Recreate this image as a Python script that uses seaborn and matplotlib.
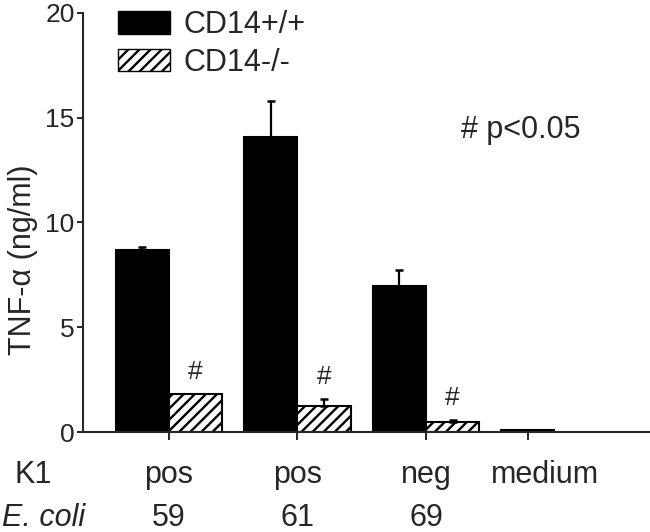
import numpy as np
import pandas as pd
import seaborn as sns
import matplotlib
matplotlib.use("Agg")
import matplotlib.pyplot as plt
from matplotlib.patches import Patch

# data
k1 = ["pos", "pos", "neg"]
strains = ["59", "61", "69"]
genotypes = ["CD14+/+", "CD14-/-"]
tnf_wt = [8.7, 14.1, 6.95]
tnf_ko = [1.82, 1.22, 0.5]
err_wt = [0.12, 1.7, 0.8]
err_ko = [0.0, 0.37, 0.08]
signif = [True, True, True]
medium_ko = [0.1]

# layout
group_pos = [0, 1, 2]
medium_pos = 2.79

sns.set_style("ticks")
plt.rcParams["font.family"] = ["Liberation Sans", "DejaVu Sans"]
plt.rcParams["hatch.linewidth"] = 1.7

df = pd.DataFrame({
    "x": group_pos * 2,
    "tnf": tnf_wt + tnf_ko,
    "genotype": [genotypes[0]] * 3 + [genotypes[1]] * 3,
})

fig = plt.figure(figsize=(6.5, 5.32), dpi=100)
ax = fig.add_axes([83 / 650, 1 - 432 / 532, 567 / 650, 419 / 532])

sns.barplot(data=df, x="x", y="tnf", hue="genotype", hue_order=genotypes,
            palette=["black", "white"], native_scale=True, width=0.83,
            errorbar=None, edgecolor="black", linewidth=1.5, legend=False, ax=ax)
bars = list(ax.patches)
for p in bars[3:6]:
    p.set_hatch("///")

sns.barplot(x=[medium_pos], y=medium_ko, native_scale=True, width=0.41,
            color="white", edgecolor="black", linewidth=1.5, hatch="///",
            errorbar=None, ax=ax)

# one-sided error bars (upper only)
xc = [p.get_x() + p.get_width() / 2 for p in bars[:6]]
tops = tnf_wt + tnf_ko
errs = err_wt + err_ko
for x, t, e in zip(xc, tops, errs):
    if e > 0:
        ax.errorbar(x, t, yerr=[[0], [e]], fmt="none", ecolor="black",
                    elinewidth=1.6, capsize=3, capthick=1.8, zorder=1)

# significance marks
for x, t, e, s in zip(xc[3:], tnf_ko, err_ko, signif):
    if s:
        ax.text(x, t + e + 1.05, "#", ha="center", va="center", fontsize=19)
ax.text(2.74, 14.4, "# p<0.05", ha="center", va="center", fontsize=22)

ax.set_ylim(0, 20)
ax.set_xlim(-0.669, 3.743)
ax.set_yticks([0, 5, 10, 15, 20])
ax.set_xticks(group_pos + [medium_pos])
ax.set_xticklabels([])
ax.tick_params(axis="y", labelsize=19, length=4, width=1.4, pad=2)
ax.tick_params(axis="x", length=6, width=1.4)
ax.set_xlabel("")
ax.set_ylabel("TNF-α (ng/ml)", fontsize=22)
ax.yaxis.set_label_coords(-0.08, 0.41)
sns.despine(ax=ax)
for s in ["left", "bottom"]:
    ax.spines[s].set_linewidth(1.5)

# category rows under the axis
tr = ax.get_xaxis_transform()
for x, a, b in zip(group_pos, k1, strains):
    ax.text(x, -0.1026, a, transform=tr, ha="center", va="center", fontsize=22)
    ax.text(x, -0.205, b, transform=tr, ha="center", va="center", fontsize=22)
ax.text(medium_pos + 0.14, -0.1026, "medium", transform=tr, ha="center",
        va="center", fontsize=22)
fig.text(0.023, 1 - 475 / 532, "K1", ha="left", va="center", fontsize=22)
fig.text(0.003, 1 - 518 / 532, "E. coli", ha="left", va="center", fontsize=22,
         style="italic")

handles = [Patch(facecolor="black", edgecolor="black"),
           Patch(facecolor="white", edgecolor="black", hatch="///")]
ax.legend(handles, genotypes, loc="upper left", bbox_to_anchor=(0.062, 1.007),
          frameon=False, fontsize=22, handlelength=1.7, handleheight=0.75,
          handletextpad=0.45, labelspacing=0.25, borderpad=0, borderaxespad=0)

fig.savefig("out.png", dpi=100)
